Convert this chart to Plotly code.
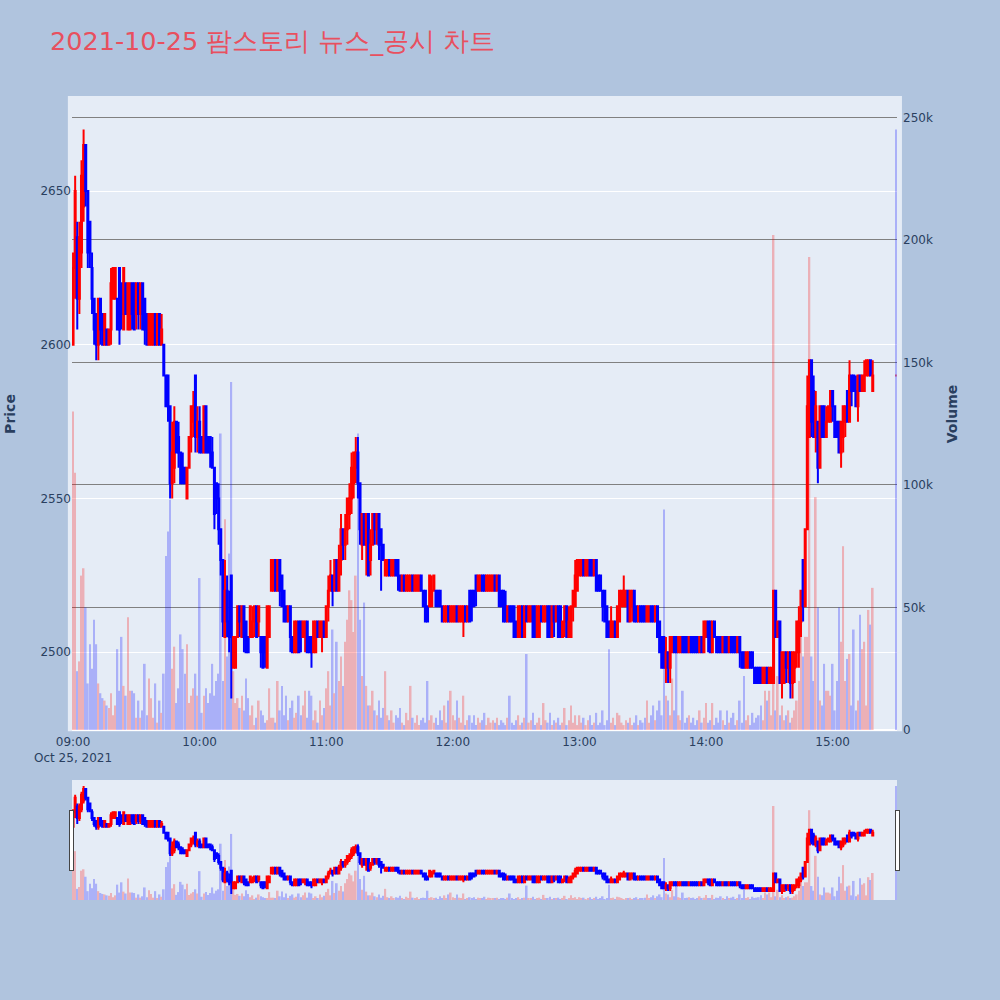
import pandas as pd
import plotly.graph_objects as go
from plotly.subplots import make_subplots

# one-minute candles 09:00 .. 15:19, then the 15:30 closing auction
opens = [
    2600, 2625, 2635, 2615, 2630, 2645, 2665, 2650, 2640, 2625,
    2615, 2610, 2600, 2615, 2610, 2600, 2605, 2600, 2605, 2615,
    2615, 2615, 2625, 2620, 2605, 2620, 2605, 2605, 2620, 2620,
    2610, 2620, 2610, 2620, 2615, 2610, 2600, 2600, 2600, 2610,
    2600, 2610, 2600, 2600, 2590, 2590, 2580, 2555, 2560, 2575,
    2570, 2565, 2560, 2560, 2550, 2560, 2570, 2575, 2590, 2570,
    2575, 2570, 2565, 2580, 2570, 2570, 2565, 2560, 2555, 2550,
    2540, 2530, 2505, 2520, 2510, 2525, 2495, 2495, 2505, 2515,
    2505, 2515, 2510, 2505, 2505, 2505, 2510, 2515, 2510, 2505,
    2505, 2505, 2495, 2505, 2520, 2520, 2530, 2520, 2530, 2525,
    2520, 2515, 2510, 2515, 2505, 2500, 2500, 2510, 2510, 2505,
    2505, 2510, 2505, 2505, 2500, 2500, 2510, 2505, 2505, 2510,
    2505, 2515, 2520, 2525, 2520, 2530, 2520, 2530, 2540, 2535,
    2540, 2545, 2550, 2555, 2560, 2565, 2555, 2535, 2545, 2535,
    2545, 2530, 2535, 2545, 2540, 2545, 2540, 2535, 2525, 2525,
    2530, 2525, 2525, 2530, 2530, 2525, 2520, 2525, 2520, 2520,
    2520, 2525, 2520, 2520, 2520, 2525, 2520, 2520, 2515, 2515,
    2515, 2520, 2520, 2520, 2520, 2515, 2510, 2510, 2515, 2510,
    2510, 2510, 2515, 2510, 2510, 2510, 2515, 2510, 2520, 2520,
    2520, 2525, 2520, 2520, 2525, 2525, 2520, 2520, 2520, 2520,
    2525, 2520, 2525, 2520, 2520, 2515, 2510, 2515, 2515, 2515,
    2510, 2505, 2505, 2515, 2505, 2515, 2510, 2510, 2515, 2515,
    2505, 2505, 2515, 2510, 2510, 2515, 2515, 2505, 2515, 2510,
    2515, 2515, 2505, 2510, 2515, 2505, 2505, 2515, 2515, 2520,
    2525, 2525, 2530, 2525, 2525, 2530, 2530, 2525, 2530, 2525,
    2525, 2520, 2520, 2515, 2510, 2505, 2505, 2510, 2505, 2510,
    2515, 2515, 2515, 2520, 2510, 2515, 2520, 2515, 2510, 2515,
    2515, 2515, 2510, 2510, 2515, 2515, 2510, 2515, 2510, 2505,
    2505, 2495, 2500, 2495, 2500, 2505, 2505, 2500, 2500, 2505,
    2505, 2505, 2500, 2505, 2505, 2505, 2505, 2500, 2505, 2500,
    2505, 2510, 2510, 2500, 2510, 2505, 2505, 2505, 2500, 2505,
    2505, 2500, 2505, 2505, 2505, 2500, 2505, 2500, 2500, 2495,
    2495, 2500, 2500, 2495, 2495, 2495, 2495, 2490, 2490, 2495,
    2490, 2490, 2490, 2520, 2505, 2510, 2490, 2490, 2500, 2495,
    2500, 2490, 2495, 2500, 2500, 2510, 2530, 2515, 2540, 2570,
    2595, 2585, 2570, 2575, 2560, 2580, 2580, 2570, 2575, 2575,
    2585, 2580, 2575, 2575, 2565, 2570, 2575, 2585, 2575, 2590,
    2590, 2585, 2580, 2590, 2585, 2585, 2590, 2590, 2595, 2585,
    2590,
]
highs = [
    2630, 2655, 2640, 2640, 2660, 2670, 2665, 2650, 2640, 2630,
    2615, 2610, 2615, 2615, 2610, 2610, 2605, 2605, 2625, 2625,
    2625, 2615, 2625, 2620, 2625, 2620, 2620, 2620, 2620, 2620,
    2620, 2620, 2620, 2620, 2615, 2610, 2610, 2610, 2610, 2610,
    2610, 2610, 2610, 2600, 2590, 2590, 2580, 2575, 2580, 2575,
    2575, 2565, 2565, 2560, 2560, 2570, 2580, 2585, 2590, 2580,
    2580, 2570, 2580, 2580, 2570, 2570, 2570, 2560, 2555, 2555,
    2540, 2530, 2530, 2525, 2520, 2525, 2505, 2505, 2515, 2515,
    2515, 2515, 2510, 2505, 2515, 2515, 2515, 2515, 2515, 2505,
    2505, 2505, 2515, 2515, 2530, 2530, 2530, 2530, 2530, 2525,
    2520, 2515, 2515, 2515, 2505, 2510, 2510, 2510, 2510, 2510,
    2510, 2510, 2505, 2505, 2510, 2510, 2510, 2510, 2510, 2510,
    2515, 2525, 2530, 2525, 2530, 2530, 2535, 2545, 2540, 2545,
    2550, 2555, 2565, 2565, 2570, 2570, 2555, 2545, 2545, 2545,
    2545, 2540, 2545, 2545, 2545, 2545, 2540, 2535, 2530, 2530,
    2530, 2530, 2530, 2530, 2530, 2525, 2525, 2525, 2525, 2525,
    2525, 2525, 2525, 2525, 2525, 2525, 2520, 2520, 2515, 2525,
    2525, 2525, 2520, 2520, 2520, 2515, 2515, 2515, 2515, 2515,
    2515, 2515, 2515, 2515, 2515, 2515, 2515, 2515, 2520, 2520,
    2520, 2525, 2525, 2525, 2525, 2525, 2525, 2525, 2525, 2525,
    2525, 2525, 2525, 2520, 2520, 2520, 2515, 2515, 2515, 2515,
    2510, 2515, 2515, 2515, 2515, 2515, 2515, 2515, 2515, 2515,
    2515, 2515, 2515, 2515, 2515, 2515, 2515, 2515, 2515, 2515,
    2515, 2515, 2510, 2515, 2515, 2515, 2515, 2520, 2530, 2530,
    2530, 2530, 2530, 2530, 2530, 2530, 2530, 2530, 2530, 2525,
    2525, 2520, 2520, 2515, 2510, 2515, 2510, 2510, 2515, 2520,
    2520, 2525, 2520, 2520, 2520, 2520, 2520, 2515, 2515, 2515,
    2515, 2515, 2515, 2515, 2515, 2515, 2515, 2515, 2510, 2505,
    2505, 2505, 2500, 2505, 2505, 2505, 2505, 2505, 2505, 2505,
    2505, 2505, 2505, 2505, 2505, 2505, 2505, 2505, 2505, 2510,
    2510, 2510, 2510, 2510, 2510, 2505, 2505, 2505, 2505, 2505,
    2505, 2505, 2505, 2505, 2505, 2505, 2505, 2500, 2500, 2500,
    2500, 2500, 2500, 2495, 2495, 2495, 2495, 2495, 2495, 2495,
    2495, 2495, 2520, 2520, 2510, 2510, 2500, 2500, 2500, 2500,
    2500, 2500, 2500, 2510, 2515, 2520, 2530, 2540, 2590, 2595,
    2595, 2590, 2585, 2575, 2580, 2580, 2580, 2580, 2580, 2585,
    2585, 2580, 2575, 2575, 2575, 2580, 2580, 2585, 2595, 2590,
    2590, 2590, 2590, 2590, 2590, 2595, 2595, 2595, 2595, 2595,
    2590,
]
lows = [
    2600, 2615, 2605, 2610, 2625, 2640, 2645, 2625, 2625, 2610,
    2600, 2595, 2595, 2600, 2600, 2600, 2600, 2600, 2600, 2615,
    2615, 2605, 2600, 2605, 2605, 2610, 2605, 2605, 2605, 2605,
    2605, 2605, 2605, 2605, 2600, 2600, 2600, 2600, 2600, 2600,
    2600, 2600, 2600, 2590, 2580, 2575, 2550, 2550, 2555, 2565,
    2560, 2555, 2555, 2555, 2550, 2560, 2565, 2570, 2565, 2565,
    2565, 2565, 2565, 2565, 2565, 2560, 2560, 2540, 2545, 2535,
    2525, 2505, 2505, 2505, 2500, 2485, 2495, 2495, 2505, 2505,
    2505, 2500, 2500, 2500, 2505, 2505, 2505, 2505, 2505, 2495,
    2495, 2495, 2495, 2505, 2520, 2520, 2520, 2520, 2515, 2515,
    2510, 2510, 2510, 2500, 2500, 2500, 2500, 2500, 2500, 2505,
    2500, 2500, 2500, 2495, 2500, 2500, 2505, 2505, 2500, 2505,
    2505, 2510, 2520, 2515, 2520, 2520, 2520, 2525, 2530, 2530,
    2535, 2540, 2545, 2550, 2555, 2550, 2535, 2530, 2535, 2525,
    2525, 2525, 2535, 2535, 2535, 2530, 2520, 2530, 2525, 2525,
    2525, 2525, 2525, 2525, 2520, 2520, 2520, 2520, 2520, 2520,
    2520, 2520, 2520, 2520, 2520, 2520, 2515, 2510, 2510, 2515,
    2515, 2520, 2515, 2515, 2515, 2510, 2510, 2510, 2510, 2510,
    2510, 2510, 2510, 2510, 2510, 2505, 2510, 2510, 2510, 2510,
    2515, 2515, 2520, 2520, 2520, 2520, 2520, 2520, 2520, 2520,
    2520, 2520, 2515, 2515, 2510, 2510, 2510, 2510, 2510, 2505,
    2505, 2505, 2505, 2505, 2505, 2510, 2510, 2510, 2505, 2505,
    2505, 2505, 2510, 2510, 2510, 2505, 2505, 2505, 2505, 2510,
    2505, 2505, 2505, 2505, 2505, 2505, 2505, 2510, 2515, 2520,
    2525, 2525, 2525, 2525, 2525, 2525, 2525, 2525, 2520, 2520,
    2520, 2510, 2510, 2505, 2505, 2505, 2505, 2505, 2505, 2510,
    2515, 2515, 2515, 2510, 2510, 2510, 2510, 2510, 2510, 2510,
    2510, 2510, 2510, 2510, 2510, 2510, 2510, 2505, 2500, 2495,
    2495, 2490, 2490, 2490, 2500, 2500, 2500, 2500, 2500, 2500,
    2500, 2500, 2500, 2500, 2500, 2500, 2500, 2500, 2500, 2500,
    2505, 2500, 2500, 2500, 2505, 2500, 2500, 2500, 2500, 2500,
    2500, 2500, 2500, 2500, 2500, 2500, 2495, 2495, 2495, 2495,
    2495, 2495, 2495, 2490, 2490, 2490, 2490, 2490, 2490, 2490,
    2490, 2490, 2490, 2505, 2505, 2490, 2485, 2490, 2490, 2490,
    2485, 2485, 2490, 2495, 2495, 2505, 2510, 2515, 2540, 2570,
    2570, 2570, 2565, 2555, 2560, 2570, 2570, 2570, 2575, 2575,
    2575, 2570, 2570, 2565, 2560, 2565, 2570, 2575, 2575, 2580,
    2585, 2580, 2575, 2585, 2585, 2585, 2590, 2590, 2590, 2585,
    2590,
]
closes = [
    2625, 2650, 2615, 2635, 2655, 2665, 2650, 2630, 2630, 2615,
    2605, 2600, 2615, 2605, 2600, 2610, 2600, 2605, 2620, 2625,
    2625, 2605, 2605, 2610, 2625, 2610, 2620, 2620, 2610, 2605,
    2620, 2610, 2620, 2605, 2605, 2600, 2610, 2610, 2610, 2600,
    2610, 2600, 2605, 2590, 2580, 2580, 2555, 2565, 2575, 2565,
    2565, 2555, 2555, 2555, 2560, 2570, 2580, 2580, 2570, 2575,
    2565, 2565, 2580, 2565, 2565, 2565, 2560, 2545, 2550, 2540,
    2530, 2510, 2520, 2510, 2505, 2505, 2505, 2505, 2515, 2510,
    2515, 2505, 2500, 2500, 2515, 2510, 2515, 2505, 2515, 2500,
    2495, 2500, 2515, 2515, 2530, 2530, 2520, 2530, 2520, 2515,
    2510, 2510, 2515, 2505, 2500, 2510, 2510, 2500, 2505, 2510,
    2510, 2500, 2500, 2500, 2510, 2510, 2505, 2510, 2510, 2505,
    2515, 2520, 2525, 2520, 2530, 2520, 2530, 2540, 2535, 2540,
    2550, 2550, 2560, 2565, 2565, 2555, 2540, 2545, 2535, 2545,
    2525, 2535, 2545, 2540, 2545, 2535, 2535, 2530, 2530, 2530,
    2525, 2530, 2530, 2525, 2525, 2520, 2525, 2520, 2525, 2525,
    2525, 2520, 2525, 2525, 2525, 2520, 2515, 2510, 2510, 2525,
    2520, 2525, 2515, 2515, 2515, 2510, 2515, 2515, 2510, 2515,
    2515, 2515, 2510, 2515, 2515, 2515, 2510, 2515, 2510, 2515,
    2515, 2520, 2525, 2525, 2520, 2520, 2525, 2525, 2525, 2525,
    2520, 2525, 2515, 2515, 2510, 2510, 2515, 2510, 2510, 2505,
    2505, 2515, 2515, 2505, 2515, 2510, 2515, 2515, 2505, 2505,
    2515, 2515, 2510, 2515, 2515, 2505, 2505, 2515, 2510, 2515,
    2505, 2505, 2510, 2515, 2505, 2510, 2515, 2520, 2525, 2530,
    2530, 2530, 2525, 2530, 2530, 2525, 2525, 2530, 2520, 2520,
    2520, 2515, 2510, 2505, 2505, 2510, 2510, 2505, 2515, 2520,
    2520, 2520, 2520, 2510, 2520, 2520, 2510, 2510, 2515, 2510,
    2510, 2510, 2515, 2515, 2510, 2510, 2515, 2505, 2500, 2495,
    2495, 2500, 2495, 2505, 2505, 2500, 2500, 2505, 2505, 2500,
    2500, 2500, 2505, 2500, 2500, 2500, 2500, 2505, 2500, 2510,
    2510, 2505, 2500, 2510, 2505, 2500, 2500, 2500, 2505, 2500,
    2500, 2505, 2500, 2500, 2500, 2505, 2500, 2495, 2495, 2500,
    2500, 2495, 2495, 2490, 2490, 2490, 2490, 2495, 2495, 2490,
    2495, 2495, 2520, 2505, 2510, 2490, 2500, 2500, 2495, 2500,
    2490, 2500, 2500, 2510, 2510, 2520, 2515, 2540, 2580, 2595,
    2575, 2570, 2580, 2560, 2580, 2570, 2570, 2575, 2580, 2585,
    2580, 2570, 2570, 2565, 2575, 2580, 2580, 2575, 2590, 2585,
    2585, 2580, 2590, 2585, 2590, 2590, 2595, 2595, 2590, 2590,
    2590,
]
volumes_k = [
    130, 105, 24, 28, 63, 66, 50, 19, 35, 25,
    45, 35, 19, 15, 13, 12, 10, 9, 15, 6,
    10, 33, 16, 38, 18, 14, 46, 16, 16, 15,
    5, 12, 5, 8, 27, 6, 21, 13, 5, 19,
    3, 12, 7, 23, 71, 81, 94, 25, 34, 11,
    17, 39, 33, 23, 35, 11, 14, 17, 23, 14,
    62, 7, 14, 17, 11, 15, 27, 14, 20, 23,
    121, 20, 86, 30, 72, 142, 24, 11, 13, 9,
    14, 8, 21, 13, 6, 10, 2, 5, 12, 8,
    6, 3, 4, 17, 5, 5, 3, 20, 8, 18,
    6, 14, 4, 9, 12, 5, 7, 14, 6, 10,
    16, 5, 16, 14, 4, 8, 3, 12, 6, 9,
    17, 24, 10, 41, 15, 36, 20, 30, 18, 36,
    45, 57, 53, 40, 63, 121, 45, 22, 52, 18,
    10, 10, 16, 8, 6, 12, 5, 9, 24, 6,
    4, 8, 3, 6, 5, 9, 3, 2, 7, 4,
    18, 5, 3, 6, 2, 4, 5, 3, 20, 4,
    6, 3, 5, 2, 8, 4, 10, 3, 12, 16,
    6, 4, 12, 5, 3, 14, 2, 4, 6, 3,
    6, 2, 5, 3, 4, 7, 2, 5, 3, 4,
    3, 5, 2, 4, 3, 2, 5, 14, 3, 2,
    4, 6, 2, 3, 5, 31, 3, 4, 7, 2,
    3, 5, 2, 11, 4, 3, 7, 2, 4, 3,
    5, 2, 3, 9, 2, 4, 10, 3, 6, 2,
    6, 3, 5, 2, 4, 6, 2, 3, 7, 2,
    3, 8, 2, 4, 33, 3, 5, 2, 7, 6,
    3, 2, 4, 3, 5, 2, 3, 6, 2, 4,
    3, 5, 12, 3, 6, 10, 4, 8, 12, 6,
    90, 14, 12, 6, 21, 8, 38, 6, 4, 16,
    3, 5, 6, 3, 5, 2, 4, 8, 3, 5,
    11, 3, 4, 11, 2, 5, 3, 8, 4, 2,
    8, 3, 5, 7, 2, 4, 12, 3, 22, 4,
    6, 2, 7, 3, 5, 6, 10, 4, 16, 12,
    16, 6, 202, 8, 22, 6, 10, 4, 6, 8,
    3, 5, 8, 12, 20, 38, 30, 38, 38, 193,
    30, 20, 95, 50, 12, 10, 27, 16, 16, 14,
    27, 8, 20, 50, 36, 75, 20, 29, 31, 10,
    41, 8, 12, 47, 33, 36, 10, 49, 43, 58,
    245,
]

times = list(pd.date_range("2021-10-25 09:00", "2021-10-25 15:19", freq="1min"))
times.append(pd.Timestamp("2021-10-25 15:30"))
volumes = [v * 1000 for v in volumes_k]
vol_colors = ["red" if c > o else "blue" for o, c in zip(opens, closes)]

FONT = "DejaVu Sans, Verdana, sans-serif"

fig = make_subplots(specs=[[{"secondary_y": True}]])
fig.add_trace(
    go.Candlestick(
        x=times, open=opens, high=highs, low=lows, close=closes,
        increasing=dict(line=dict(color="red"), fillcolor="red"),
        decreasing=dict(line=dict(color="blue"), fillcolor="blue"),
        name="Price",
    ),
    secondary_y=False,
)
fig.add_trace(
    go.Bar(x=times, y=volumes, marker=dict(color=vol_colors, line=dict(width=0)),
           opacity=0.25, name="Volume"),
    secondary_y=True,
)

fig.update_layout(
    width=1000, height=1000,
    font=dict(family=FONT),
    title=dict(text="2021-10-25 팜스토리 뉴스_공시 차트",
               font=dict(family=FONT, size=25.5, color="#E8505F"),
               x=0.05, xanchor="left", y=0.959, yanchor="middle"),
    paper_bgcolor="lightsteelblue",
    plot_bgcolor="#E5ECF6",
    showlegend=False,
    margin=dict(l=72, r=103, t=98, b=100),
    xaxis=dict(showgrid=False, domain=[0, 1], ticklabelstandoff=3,
               rangeslider=dict(visible=True, bgcolor="#E5ECF6")),
    shapes=[dict(type="rect", xref="paper", yref="paper",
                 x0=-0.005, x1=1.006, y0=-0.002, y1=1.003,
                 fillcolor="#E5ECF6", line=dict(width=0), layer="below")],
)
fig.update_yaxes(title=dict(text="<b>Price</b>", font=dict(size=14), standoff=21),
                 automargin=False, secondary_y=False)
fig.update_yaxes(title=dict(text="<b>Volume</b>", font=dict(size=14), standoff=15),
                 ticklabelstandoff=5,
                 gridcolor="gray", showgrid=True, automargin=False,
                 secondary_y=True)

fig.write_html("out.html", config={"displayModeBar": False},
               post_script="document.body.style.margin='0';")
